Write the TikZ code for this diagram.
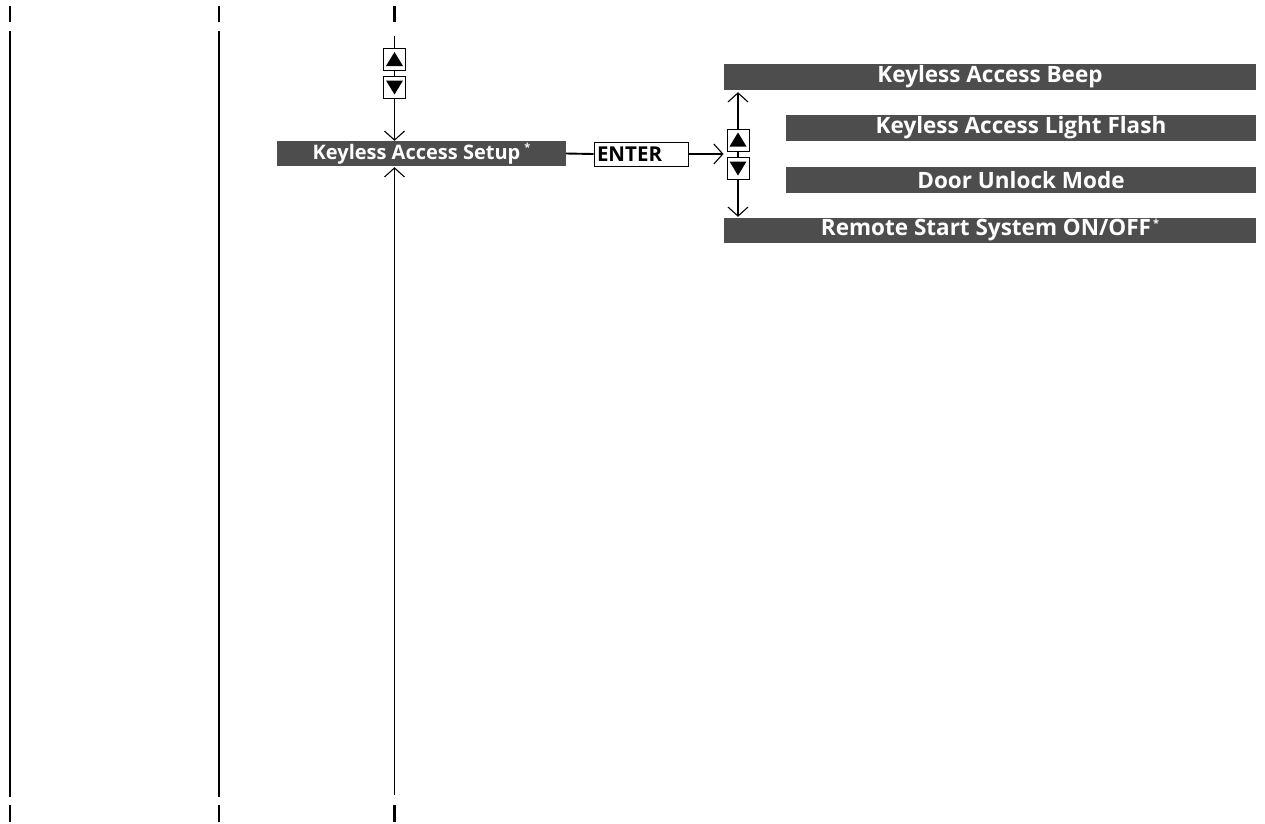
\documentclass[tikz,border=0pt]{standalone}
\usepackage{fontspec}
\setmainfont{Open Sans}
\usepackage{tikz}
\usetikzlibrary{arrows.meta,positioning,calc}
\definecolor{bargray}{RGB}{77,77,77}
\newcommand{\optmark}{\hspace{2pt}\raisebox{8pt}{\fontsize{11}{11}\selectfont *}}

\begin{document}
\begin{tikzpicture}[x=1pt, y=-1pt,
    menubar/.style={fill=bargray, text=white, font=\fontsize{22.5}{24}\selectfont\bfseries, inner sep=0pt, minimum height=26pt},
    keybox/.style={draw=black, line width=0.9pt, minimum size=22pt, inner sep=0pt},
    enterbox/.style={draw=black, line width=0.9pt, font=\fontsize{20.5}{22}\selectfont\bfseries, text width=88pt, align=left, inner xsep=3pt, inner ysep=0pt, minimum height=24pt},
    sepline/.style={line width=2.2pt},
    flowline/.style={line width=1.9pt},
    flowarrow/.style={flowline, -{Straight Barb[length=9pt, width=20pt, line width=1.1pt]}}
]
\useasboundingbox (0,0) rectangle (1265,823);

% menu bars
\node[menubar, minimum width=289pt, minimum height=25pt, font=\fontsize{20}{22}\selectfont\bfseries] (setup) at (421.5,153.5) {Keyless Access Setup\hspace{2pt}\optmark};
\node[menubar, minimum width=532pt] (beep) at (990,77) {Keyless Access Beep};
\node[menubar, minimum width=470pt] (flash) at (1021,128) {Keyless Access Light Flash};
\node[menubar, minimum width=470pt] (door) at (1021,180) {Door Unlock Mode};
\node[menubar, minimum width=532pt, minimum height=25pt] (remote) at (990,230.5) {Remote Start System ON/OFF\optmark};

\node[enterbox] (enter) at (641,154) {ENTER};

% arrow keys
\node[keybox] (up1) at (394.5,59.5) {};
\node[keybox] (dn1) at (394.5,87) {};
\node[keybox] (up2) at (738,140) {};
\node[keybox] (dn2) at (738,168) {};
\foreach \k in {up1,up2}
  \fill ([shift={(0,-7.5)}]\k.center) -- ([shift={(8.5,6.5)}]\k.center) -- ([shift={(-8.5,6.5)}]\k.center) -- cycle;
\foreach \k in {dn1,dn2}
  \fill ([shift={(0,7.5)}]\k.center) -- ([shift={(8.5,-6.5)}]\k.center) -- ([shift={(-8.5,-6.5)}]\k.center) -- cycle;

% page rules
\foreach \x in {10,219} {
  \draw[sepline] (\x,6) -- (\x,22);
  \draw[sepline] (\x,31) -- (\x,797);
  \draw[sepline] (\x,805) -- (\x,822);
}
\draw[sepline] (394.5,6) -- (394.5,22);
\draw[sepline] (394.5,805) -- (394.5,822);
\coordinate (topin) at (394.5,36);
\coordinate (botin) at (394.5,795);

% connectors
\draw[flowline] (topin) -- (up1.north);
\draw[flowline] (up1.south) -- (dn1.north);
\draw[flowarrow] (dn1.south) -- (dn1.south |- setup.north);
\draw[flowarrow, shorten >=1pt] (botin) -- (botin |- setup.south);
\draw[flowline] (setup.east) -- (enter.west);
\draw[flowarrow, shorten >=3pt] (enter.east) -- (enter.east -| up2.west);
\draw[flowline] (up2.south) -- (dn2.north);
\draw[flowarrow, shorten >=2pt] (up2.north) -- (up2.north |- beep.south);
\draw[flowarrow, shorten >=1pt] (dn2.south) -- (dn2.south |- remote.north);
\end{tikzpicture}
\end{document}
